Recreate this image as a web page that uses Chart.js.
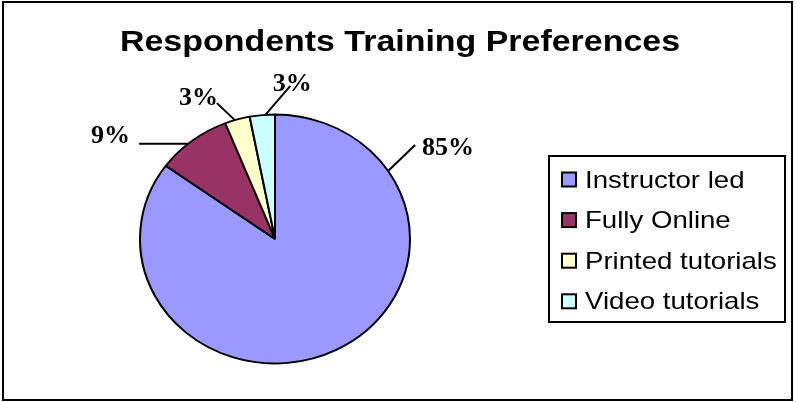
<!DOCTYPE html>
<html>
<head>
<meta charset="utf-8">
<script src="https://cdn.jsdelivr.net/npm/chart.js@4.4.1/dist/chart.umd.min.js"></script>
<style>
  html, body { margin: 0; padding: 0; background: #fff; }
  canvas { display: block; }
</style>
</head>
<body>
<canvas id="pie-chart" width="796" height="402"></canvas>
<script>
var categories = ["Instructor led", "Fully Online", "Printed tutorials", "Video tutorials"];
var shares = [85, 9, 3, 3];
var sliceColors = ["#9999FF", "#993366", "#FFFFCC", "#CCFFFF"];
var chartTitle = "Respondents Training Preferences";

// where each percentage goes: point on the slice edge (fraction of its sweep),
// leader line end relative to that point, text relative to the line end
var labelLayout = [
  { at: 0.186, line: [27, -26], text: [7, 3], align: "left" },
  { at: 0.43, line: [-49, 0], text: [-9, -7], align: "right" },
  { at: 0.40, line: [-18, -17], text: [1, -5], align: "right" },
  { at: 0.62, line: [25, -29], text: [2, -2], align: "center" }
];

var squash = 124.5 / 135; // pie is a little flatter than round

// text that is stretched sideways, as the old office charts draw it
function wideText(ctx, str, x, y, stretch) {
  ctx.save();
  ctx.translate(x, y);
  ctx.scale(stretch, 1);
  ctx.fillText(str, 0, 0);
  ctx.restore();
}

var flatPie = {
  id: 'flatPie',
  beforeDatasetsDraw: function (chart) {
    var arc = chart.getDatasetMeta(0).data[0];
    var ctx = chart.ctx;
    ctx.save();
    ctx.translate(arc.x, arc.y);
    ctx.scale(1, squash);
    ctx.translate(-arc.x, -arc.y);
  },
  afterDatasetsDraw: function (chart) {
    chart.ctx.restore();
  }
};

var decor = {
  id: 'decor',
  afterDraw: function (chart) {
    var ctx = chart.ctx;
    var meta = chart.getDatasetMeta(0);
    var total = shares.reduce(function (a, b) { return a + b; }, 0);
    ctx.save();

    // frame round the whole chart
    ctx.strokeStyle = '#000';
    ctx.lineWidth = 2;
    ctx.strokeRect(3, 2, 789, 398);

    // title
    ctx.fillStyle = '#000';
    ctx.font = 'bold 29px "Liberation Sans", Arial, sans-serif';
    ctx.textAlign = 'center';
    ctx.textBaseline = 'alphabetic';
    wideText(ctx, chartTitle, 400, 51, 1.17);

    // percentages with leader lines
    ctx.font = 'bold 26px "Liberation Serif", "Times New Roman", serif';
    ctx.textBaseline = 'middle';
    ctx.lineWidth = 2;
    meta.data.forEach(function (arc, i) {
      var p = arc.getProps(['x', 'y', 'startAngle', 'endAngle', 'outerRadius'], true);
      var lay = labelLayout[i];
      var a = p.startAngle + (p.endAngle - p.startAngle) * lay.at;
      var ex = p.x + Math.cos(a) * p.outerRadius;
      var ey = p.y + Math.sin(a) * p.outerRadius * squash;
      var lx = ex + lay.line[0], ly = ey + lay.line[1];
      ctx.beginPath();
      ctx.moveTo(ex, ey);
      ctx.lineTo(lx, ly);
      ctx.stroke();
      ctx.textAlign = lay.align;
      ctx.fillText(Math.round(shares[i] / total * 100) + '%', lx + lay.text[0], ly + lay.text[1]);
    });

    // legend box
    ctx.lineWidth = 2;
    ctx.strokeRect(549, 156, 236, 166);
    ctx.font = '24px "Liberation Sans", Arial, sans-serif';
    ctx.textAlign = 'left';
    ctx.textBaseline = 'alphabetic';
    categories.forEach(function (name, i) {
      var base = 187.5 + 40.6 * i;
      ctx.fillStyle = sliceColors[i];
      ctx.fillRect(562, base - 15, 14, 14);
      ctx.strokeRect(562, base - 15, 14, 14);
      ctx.fillStyle = '#000';
      wideText(ctx, name, 585, base, 1.15);
    });
    ctx.restore();
  }
};

new Chart(document.getElementById("pie-chart"), {
  type: 'pie',
  data: {
    labels: categories,
    datasets: [{
      data: shares,
      backgroundColor: sliceColors,
      borderColor: '#000',
      borderWidth: 2
    }]
  },
  options: {
    responsive: false,
    animation: false,
    events: [],
    layout: { padding: { left: 139, right: 385, top: 103, bottom: 27 } },
    plugins: {
      legend: { display: false },
      title: { display: false },
      tooltip: { enabled: false }
    }
  },
  plugins: [flatPie, decor]
});
</script>
</body>
</html>
